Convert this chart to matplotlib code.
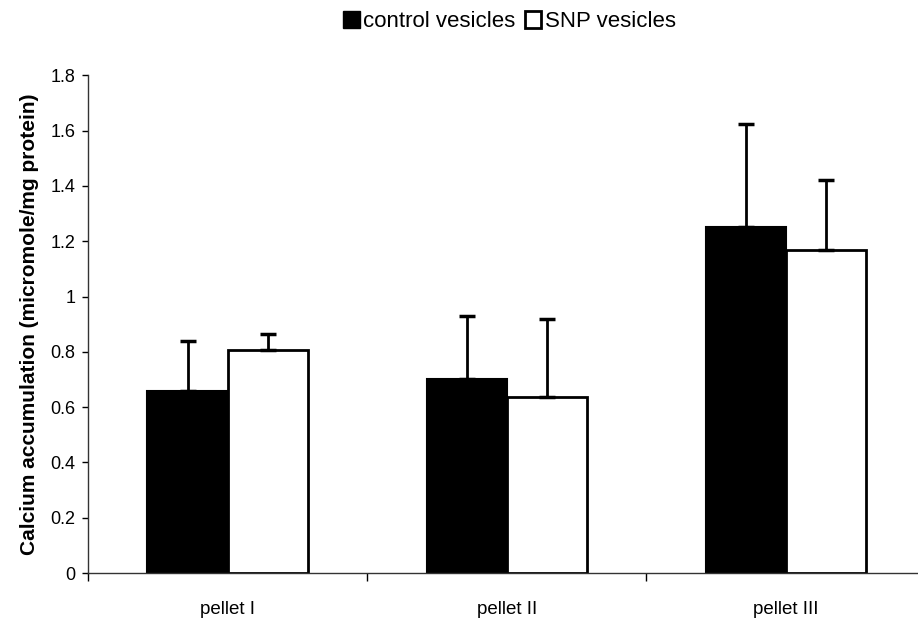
import matplotlib
matplotlib.use("Agg")
from matplotlib import pyplot as plt
from matplotlib.patches import Patch
import numpy as np

plt.rcParams['font.family'] = ['Liberation Sans', 'DejaVu Sans']

categories = ['pellet I', 'pellet II', 'pellet III']
control = [0.66, 0.70, 1.25]
control_err = [0.18, 0.23, 0.375]
snp = [0.805, 0.635, 1.17]
snp_err = [0.06, 0.285, 0.25]
yticks = [0, 0.2, 0.4, 0.6, 0.8, 1, 1.2, 1.4, 1.6, 1.8]
yticklabels = ['0', '0.2', '0.4', '0.6', '0.8', '1', '1.2', '1.4', '1.6', '1.8']

fig = plt.figure(figsize=(9.18, 6.19), dpi=100)
ax = fig.add_axes([0.0959, 0.0743, 0.912, 0.804])

x = np.arange(len(categories)) + 0.5
w = 0.287

ax.bar(x - w/2, control, w, color='black', edgecolor='black', linewidth=1.5, zorder=2)
ax.bar(x + w/2, snp, w, color='white', edgecolor='black', linewidth=2, zorder=2)
ax.errorbar(x - w/2, control, yerr=[np.zeros(3), control_err], fmt='none',
            ecolor='black', elinewidth=2, capsize=5.5, capthick=2.5, zorder=3)
ax.errorbar(x + w/2, snp, yerr=[np.zeros(3), snp_err], fmt='none',
            ecolor='black', elinewidth=2, capsize=5.5, capthick=2.5, zorder=3)

ax.set_xlim(0, 3)
ax.set_ylim(0, 1.8)
ax.set_yticks(yticks)
ax.set_yticklabels(yticklabels, fontsize=13)
ax.set_xticks([0, 1, 2, 3])
ax.set_xticklabels([])
ax.set_xticks(x, minor=True)
ax.set_xticklabels(categories, minor=True, fontsize=13.5)
ax.tick_params(axis='x', which='minor', length=0, pad=20)
ax.tick_params(axis='x', which='major', length=6, direction='out', width=1)
ax.tick_params(axis='y', length=4, direction='out', width=1, pad=5)

for s in ['top', 'right']:
    ax.spines[s].set_visible(False)
for s in ['left', 'bottom']:
    ax.spines[s].set_linewidth(1)
    ax.spines[s].set_color('#333333')

ax.set_ylabel('Calcium accumulation (micromole/mg protein)', fontsize=15,
              fontweight='bold', labelpad=8)

handles = [Patch(facecolor='black', edgecolor='black', label='control vesicles'),
           Patch(facecolor='white', edgecolor='black', linewidth=2, label='SNP vesicles')]
fig.legend(handles=handles, loc='center', bbox_to_anchor=(0.555, 0.965), ncol=2,
           frameon=False, fontsize=16, handlelength=0.75, handleheight=0.75,
           handletextpad=0.15, columnspacing=0.4)

fig.savefig('out.png', dpi=100)
